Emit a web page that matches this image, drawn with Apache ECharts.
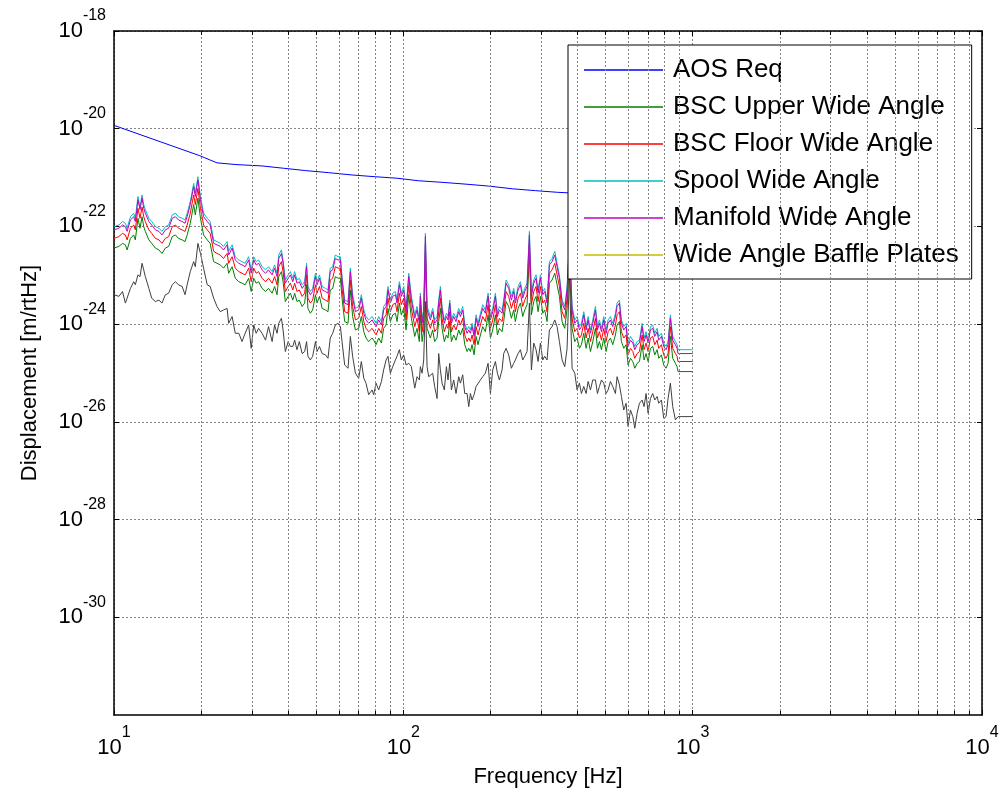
<!DOCTYPE html>
<html><head><meta charset="utf-8">
<script src="https://cdn.jsdelivr.net/npm/echarts@6/dist/echarts.min.js"></script>
<style>html,body{margin:0;padding:0;background:#fff}#chart{width:1005px;height:803px}</style>
</head><body><div id="chart"></div>
<script>
// ---- data ----
const aosFreq = [10, 19.8, 22.7, 26.6, 32.5, 38.6, 45.9, 55.2, 66.5, 80.0, 95.1, 113, 136, 166, 197, 238, 286, 340, 1000];
const aosReq = [1.17e-20, 2.8e-21, 2.0e-21, 1.84e-21, 1.73e-21, 1.55e-21, 1.39e-21, 1.26e-21, 1.13e-21, 1.04e-21, 9.7e-22, 8.6e-22, 8.0e-22, 7.3e-22, 6.7e-22, 5.9e-22, 5.4e-22, 5.0e-22, 3.6e-22];

const freq = [
10.0,10.4,10.7,10.95,11.1,11.4,11.7,11.85,12.1,12.3,
12.5,12.67,12.83,13.2,13.5,13.9,14.3,14.65,14.85,15.05,
15.45,15.9,16.3,16.7,17.2,17.6,17.9,18.35,18.85,19.1,
19.5,19.9,20.4,21.0,21.5,22.1,22.7,23.3,23.9,24.6,
24.9,25.6,26.25,27.0,27.7,28.4,29.2,29.8,30.4,31.0,
31.6,32.5,33.4,34.2,35.2,35.9,36.6,37.1,37.9,38.4,
39.1,40.0,40.7,41.5,42.1,42.9,43.7,44.7,45.6,46.3,
46.8,47.7,48.6,49.7,50.3,51.3,52.4,53.8,54.9,55.9,
57.0,58.2,59.5,60.6,61.4,62.7,64.4,65.6,66.8,68.3,
70.1,71.6,73.0,74.3,75.9,78.0,79.0,80.5,82.2,84.0,
85.5,87.2,88.5,90.2,91.9,93.9,95.1,96.9,98.4,100.3,
102.2,104.4,106.6,109.5,111.5,113.6,114.5,116.1,117.6,119.2,
120.8,122.4,124.0,126.3,128.3,130.8,132.5,134.3,136.1,138.6,
140.9,142.7,144.7,146.6,149.3,152.1,155.4,157.5,160.4,163.0,
166.1,168.3,170.5,172.8,175.6,178.4,181.2,184.7,188.1,192.1,
196.3,200.0,203.7,208.1,211.4,214.8,219.4,222.3,226.5,231.3,
236.3,240.7,243.9,249.2,253.9,258.6,262.8,267.7,272.7,277.1,
282.3,287.6,292.2,297.7,303.3,308.1,313.9,319.8,326.6,333.7,
339.9,346.3,353.8,361.3,368.1,375.0,383.1,391.3,398.6,406.1,
412.6,420.4,428.3,435.2,443.3,451.6,461.3,468.7,476.2,483.9,
492.9,502.1,510.2,519.7,529.4,540.8,548.0,558.3,567.2,577.9,
588.8,598.2,609.5,621.0,630.9,642.7,654.7,668.8,679.2,690.2,
701.4,714.5,727.8,739.6,753.5,763.4,779.8,794.3,809.2,822.2,
837.5,853.3,871.6,883.3,890.0,1000.0];

const bscUpper = [
3.6e-23,3.9e-23,4.5e-23,4.2e-23,3.3e-23,5.7e-23,6.7e-23,5.3e-23,1.47e-22,9.2e-23,
1.58e-22,9.9e-23,7.9e-23,5.3e-23,4.5e-23,3.6e-23,3.3e-23,2.8e-23,2.6e-23,3.6e-23,
3.9e-23,6.2e-23,6.7e-23,5.7e-23,5.3e-23,4.9e-23,6.7e-23,1.16e-22,2.8e-22,1.72e-22,
3.8e-22,1.47e-22,6.7e-23,5.3e-23,4.5e-23,1.9e-23,1.76e-23,1.63e-23,1.4e-23,1.76e-23,
1.1e-23,1.5e-23,8.7e-24,7.4e-24,6.9e-24,6.4e-24,8.7e-24,4.65e-24,8.7e-24,6.9e-24,
7.4e-24,5.4e-24,4.65e-24,5.4e-24,4.3e-24,5.9e-24,4.0e-24,9.4e-24,1.19e-23,7.4e-24,
2.9e-24,3.7e-24,4.3e-24,3.1e-24,4.3e-24,2.9e-24,3.1e-24,2.3e-24,2.7e-24,6.4e-24,
2.1e-24,1.67e-24,1.95e-24,4.0e-24,2.7e-24,3.7e-24,2.1e-24,1.95e-24,1.8e-24,5.0e-24,
5.4e-24,9.4e-24,8.7e-24,8.7e-24,3.4e-24,1.13e-24,1.04e-24,5.0e-24,1.43e-24,7.6e-25,
8.2e-25,1.43e-24,7.0e-25,5.2e-25,4.4e-25,5.2e-25,4.7e-25,3.8e-25,5.2e-25,4.1e-25,
8.2e-25,9.6e-25,2.1e-24,1.13e-24,1.55e-24,1.67e-24,1.13e-24,2.7e-24,1.55e-24,2.1e-24,
7.6e-25,4.0e-24,1.32e-24,5.6e-25,8.2e-25,4.4e-25,1.55e-24,4.4e-25,7.6e-25,2.6e-23,
8.2e-25,8.2e-25,5.2e-25,7.6e-25,4.4e-25,5.2e-25,1.13e-24,2.1e-24,8.2e-25,4.4e-25,
6.0e-25,5.2e-25,1.13e-24,4.4e-25,6.0e-25,4.7e-25,7.6e-25,6.0e-25,8.2e-25,3.8e-25,
2.75e-25,3.2e-25,2.75e-25,3.8e-25,2.35e-25,5.6e-25,3.8e-25,6.0e-25,8.9e-25,7.0e-25,
1.55e-24,5.2e-25,7.6e-25,1.55e-24,6.0e-25,8.2e-25,7.0e-25,1.13e-24,2.9e-24,2.3e-24,
1.32e-24,1.95e-24,1.13e-24,2.1e-24,2.7e-24,1.43e-24,1.95e-24,2.5e-24,2.8e-23,1.55e-24,
2.9e-24,3.7e-24,1.8e-24,3.7e-24,1.67e-24,1.95e-24,1.13e-24,6.9e-24,8.0e-24,1.1e-23,
6.4e-24,3.7e-24,1.13e-24,8.2e-25,2.1e-24,1.9e-23,8.2e-25,4.4e-25,5.2e-25,3.2e-25,
3.8e-25,6.5e-25,3.2e-25,5.2e-25,2.75e-25,4.4e-25,8.2e-25,3.2e-25,4.4e-25,3.0e-25,
5.2e-25,2.75e-25,4.4e-25,5.2e-25,3.8e-25,6.0e-25,9.6e-25,1.13e-24,4.4e-25,3.2e-25,
3.8e-25,1.46e-25,2.0e-25,1.72e-25,1.25e-25,1.58e-25,1.72e-25,3.8e-25,1.85e-25,2.5e-25,
1.72e-25,3.2e-25,3.5e-25,2.35e-25,3.0e-25,2.0e-25,2.35e-25,1.46e-25,1.25e-25,1.58e-25,
5.6e-25,2.0e-25,1.58e-25,1.35e-25,1.07e-25,1.07e-25];

const bscFloor = [
5.7e-23,6.2e-23,7.2e-23,6.7e-23,5.3e-23,9.2e-23,1.07e-22,8.5e-23,2.35e-22,1.47e-22,
2.5e-22,1.58e-22,1.26e-22,8.5e-23,7.2e-23,5.7e-23,5.3e-23,4.5e-23,4.2e-23,5.7e-23,
6.2e-23,9.9e-23,1.07e-22,9.2e-23,8.5e-23,7.9e-23,1.07e-22,1.86e-22,4.4e-22,2.8e-22,
6.0e-22,2.35e-22,1.07e-22,8.5e-23,7.2e-23,3.1e-23,2.8e-23,2.6e-23,2.2e-23,2.8e-23,
1.76e-23,2.4e-23,1.4e-23,1.19e-23,1.1e-23,1.02e-23,1.4e-23,7.4e-24,1.4e-23,1.1e-23,
1.19e-23,8.7e-24,7.4e-24,8.7e-24,6.9e-24,9.4e-24,6.4e-24,1.5e-23,1.9e-23,1.19e-23,
4.65e-24,5.9e-24,6.9e-24,5.0e-24,6.9e-24,4.65e-24,5.0e-24,3.7e-24,4.3e-24,1.02e-23,
3.4e-24,2.7e-24,3.1e-24,6.4e-24,4.3e-24,5.9e-24,3.4e-24,3.1e-24,2.9e-24,8.0e-24,
8.7e-24,1.5e-23,1.4e-23,1.4e-23,5.4e-24,1.8e-24,1.67e-24,8.0e-24,2.3e-24,1.22e-24,
1.32e-24,2.3e-24,1.13e-24,8.2e-25,7.0e-25,8.2e-25,7.6e-25,6.0e-25,8.2e-25,6.5e-25,
1.32e-24,1.55e-24,3.4e-24,1.8e-24,2.5e-24,2.7e-24,1.8e-24,4.3e-24,2.5e-24,3.4e-24,
1.22e-24,6.4e-24,2.1e-24,8.9e-25,1.32e-24,7.0e-25,2.5e-24,7.0e-25,1.22e-24,4.2e-23,
1.32e-24,1.32e-24,8.2e-25,1.22e-24,7.0e-25,8.2e-25,1.8e-24,3.4e-24,1.32e-24,7.0e-25,
9.6e-25,8.2e-25,1.8e-24,7.0e-25,9.6e-25,7.6e-25,1.22e-24,9.6e-25,1.32e-24,6.0e-25,
4.4e-25,5.2e-25,4.4e-25,6.0e-25,3.8e-25,8.9e-25,6.0e-25,9.6e-25,1.43e-24,1.13e-24,
2.5e-24,8.2e-25,1.22e-24,2.5e-24,9.6e-25,1.32e-24,1.13e-24,1.8e-24,4.65e-24,3.7e-24,
2.1e-24,3.1e-24,1.8e-24,3.4e-24,4.3e-24,2.3e-24,3.1e-24,4.0e-24,4.5e-23,2.5e-24,
4.65e-24,5.9e-24,2.9e-24,5.9e-24,2.7e-24,3.1e-24,1.8e-24,1.1e-23,1.29e-23,1.76e-23,
1.02e-23,5.9e-24,1.8e-24,1.32e-24,3.4e-24,3.1e-23,1.32e-24,7.0e-25,8.2e-25,5.2e-25,
6.0e-25,1.04e-24,5.2e-25,8.2e-25,4.4e-25,7.0e-25,1.32e-24,5.2e-25,7.0e-25,4.7e-25,
8.2e-25,4.4e-25,7.0e-25,8.2e-25,6.0e-25,9.6e-25,1.55e-24,1.8e-24,7.0e-25,5.2e-25,
6.0e-25,2.35e-25,3.2e-25,2.75e-25,2.0e-25,2.5e-25,2.75e-25,6.0e-25,3.0e-25,4.1e-25,
2.75e-25,5.2e-25,5.6e-25,3.8e-25,4.7e-25,3.2e-25,3.8e-25,2.35e-25,2.0e-25,2.5e-25,
8.9e-25,3.2e-25,2.5e-25,2.2e-25,1.72e-25,1.72e-25];

const spool = [
9.9e-23,1.07e-22,1.26e-22,1.16e-22,9.2e-23,1.58e-22,1.86e-22,1.47e-22,4.1e-22,2.5e-22,
4.4e-22,2.8e-22,2.2e-22,1.47e-22,1.26e-22,9.9e-23,9.2e-23,7.9e-23,7.2e-23,9.9e-23,
1.07e-22,1.72e-22,1.86e-22,1.58e-22,1.47e-22,1.36e-22,1.86e-22,3.2e-22,7.6e-22,4.8e-22,
1.04e-21,4.1e-22,1.86e-22,1.47e-22,1.26e-22,5.3e-23,4.9e-23,4.5e-23,3.9e-23,4.9e-23,
3.1e-23,4.2e-23,2.4e-23,2.06e-23,1.9e-23,1.76e-23,2.4e-23,1.29e-23,2.4e-23,1.9e-23,
2.06e-23,1.5e-23,1.29e-23,1.5e-23,1.19e-23,1.63e-23,1.1e-23,2.6e-23,3.3e-23,2.06e-23,
8.0e-24,1.02e-23,1.19e-23,8.7e-24,1.19e-23,8.0e-24,8.7e-24,6.4e-24,7.4e-24,1.76e-23,
5.9e-24,4.65e-24,5.4e-24,1.1e-23,7.4e-24,1.02e-23,5.9e-24,5.4e-24,5.0e-24,1.4e-23,
1.5e-23,2.6e-23,2.4e-23,2.4e-23,9.4e-24,3.1e-24,2.9e-24,1.4e-23,4.0e-24,2.1e-24,
2.3e-24,4.0e-24,1.95e-24,1.43e-24,1.22e-24,1.43e-24,1.32e-24,1.04e-24,1.43e-24,1.13e-24,
2.3e-24,2.7e-24,5.9e-24,3.1e-24,4.3e-24,4.65e-24,3.1e-24,7.4e-24,4.3e-24,5.9e-24,
2.1e-24,1.1e-23,3.7e-24,1.55e-24,2.3e-24,1.22e-24,4.3e-24,1.22e-24,2.1e-24,7.2e-23,
2.3e-24,2.3e-24,1.43e-24,2.1e-24,1.22e-24,1.43e-24,3.1e-24,5.9e-24,2.3e-24,1.22e-24,
1.67e-24,1.43e-24,3.1e-24,1.22e-24,1.67e-24,1.32e-24,2.1e-24,1.67e-24,2.3e-24,1.04e-24,
7.6e-25,8.9e-25,7.6e-25,1.04e-24,6.5e-25,1.55e-24,1.04e-24,1.67e-24,2.5e-24,1.95e-24,
4.3e-24,1.43e-24,2.1e-24,4.3e-24,1.67e-24,2.3e-24,1.95e-24,3.1e-24,8.0e-24,6.4e-24,
3.7e-24,5.4e-24,3.1e-24,5.9e-24,7.4e-24,4.0e-24,5.4e-24,6.9e-24,7.9e-23,4.3e-24,
8.0e-24,1.02e-23,5.0e-24,1.02e-23,4.65e-24,5.4e-24,3.1e-24,1.9e-23,2.2e-23,3.1e-23,
1.76e-23,1.02e-23,3.1e-24,2.3e-24,5.9e-24,5.3e-23,2.3e-24,1.22e-24,1.43e-24,8.9e-25,
1.04e-24,1.8e-24,8.9e-25,1.43e-24,7.6e-25,1.22e-24,2.3e-24,8.9e-25,1.22e-24,8.2e-25,
1.43e-24,7.6e-25,1.22e-24,1.43e-24,1.04e-24,1.67e-24,2.7e-24,3.1e-24,1.22e-24,8.9e-25,
1.04e-24,4.1e-25,5.6e-25,4.7e-25,3.5e-25,4.4e-25,4.7e-25,1.04e-24,5.2e-25,7.0e-25,
4.7e-25,8.9e-25,9.6e-25,6.5e-25,8.2e-25,5.6e-25,6.5e-25,4.1e-25,3.5e-25,4.4e-25,
1.55e-24,5.6e-25,4.4e-25,3.8e-25,3.0e-25,3.0e-25];

const manifold = [
8.5e-23,9.2e-23,1.07e-22,9.9e-23,7.9e-23,1.36e-22,1.58e-22,1.26e-22,3.5e-22,2.2e-22,
3.8e-22,2.35e-22,1.86e-22,1.26e-22,1.07e-22,8.5e-23,7.9e-23,6.7e-23,6.2e-23,8.5e-23,
9.2e-23,1.47e-22,1.58e-22,1.36e-22,1.26e-22,1.16e-22,1.58e-22,2.8e-22,6.5e-22,4.1e-22,
8.9e-22,3.5e-22,1.58e-22,1.26e-22,1.07e-22,4.5e-23,4.2e-23,3.9e-23,3.3e-23,4.2e-23,
2.6e-23,3.6e-23,2.06e-23,1.76e-23,1.63e-23,1.5e-23,2.06e-23,1.1e-23,2.06e-23,1.63e-23,
1.76e-23,1.29e-23,1.1e-23,1.29e-23,1.02e-23,1.4e-23,9.4e-24,2.2e-23,2.8e-23,1.76e-23,
6.9e-24,8.7e-24,1.02e-23,7.4e-24,1.02e-23,6.9e-24,7.4e-24,5.4e-24,6.4e-24,1.5e-23,
5.0e-24,4.0e-24,4.65e-24,9.4e-24,6.4e-24,8.7e-24,5.0e-24,4.65e-24,4.3e-24,1.19e-23,
1.29e-23,2.2e-23,2.06e-23,2.06e-23,8.0e-24,2.7e-24,2.5e-24,1.19e-23,3.4e-24,1.8e-24,
1.95e-24,3.4e-24,1.67e-24,1.22e-24,1.04e-24,1.22e-24,1.13e-24,8.9e-25,1.22e-24,9.6e-25,
1.95e-24,2.3e-24,5.0e-24,2.7e-24,3.7e-24,4.0e-24,2.7e-24,6.4e-24,3.7e-24,5.0e-24,
1.8e-24,9.4e-24,3.1e-24,1.32e-24,1.95e-24,1.04e-24,3.7e-24,1.04e-24,1.8e-24,6.2e-23,
1.95e-24,1.95e-24,1.22e-24,1.8e-24,1.04e-24,1.22e-24,2.7e-24,5.0e-24,1.95e-24,1.04e-24,
1.43e-24,1.22e-24,2.7e-24,1.04e-24,1.43e-24,1.13e-24,1.8e-24,1.43e-24,1.95e-24,8.9e-25,
6.5e-25,7.6e-25,6.5e-25,8.9e-25,5.6e-25,1.32e-24,8.9e-25,1.43e-24,2.1e-24,1.67e-24,
3.7e-24,1.22e-24,1.8e-24,3.7e-24,1.43e-24,1.95e-24,1.67e-24,2.7e-24,6.9e-24,5.4e-24,
3.1e-24,4.65e-24,2.7e-24,5.0e-24,6.4e-24,3.4e-24,4.65e-24,5.9e-24,6.7e-23,3.7e-24,
6.9e-24,8.7e-24,4.3e-24,8.7e-24,4.0e-24,4.65e-24,2.7e-24,1.63e-23,1.9e-23,2.6e-23,
1.5e-23,8.7e-24,2.7e-24,1.95e-24,5.0e-24,4.5e-23,1.95e-24,1.04e-24,1.22e-24,7.6e-25,
8.9e-25,1.55e-24,7.6e-25,1.22e-24,6.5e-25,1.04e-24,1.95e-24,7.6e-25,1.04e-24,7.0e-25,
1.22e-24,6.5e-25,1.04e-24,1.22e-24,8.9e-25,1.43e-24,2.3e-24,2.7e-24,1.04e-24,7.6e-25,
8.9e-25,3.5e-25,4.7e-25,4.1e-25,3.0e-25,3.8e-25,4.1e-25,8.9e-25,4.4e-25,6.0e-25,
4.1e-25,7.6e-25,8.2e-25,5.6e-25,7.0e-25,4.7e-25,5.6e-25,3.5e-25,3.0e-25,3.8e-25,
1.32e-24,4.7e-25,3.8e-25,3.2e-25,2.5e-25,2.5e-25];

// Wide Angle Baffle Plates: no trace is visible in the picture
const bafflePlates = [];

// dark grey trace (not listed in the legend)
const totalTrace = [
4.0e-24,3.7e-24,4.65e-24,2.7e-24,2.5e-24,5.4e-24,7.4e-24,6.4e-24,1.02e-23,9.4e-24,
1.76e-23,1.29e-23,9.4e-24,5.4e-24,3.4e-24,2.9e-24,3.1e-24,2.7e-24,2.7e-24,4.0e-24,
4.3e-24,6.4e-24,7.4e-24,6.4e-24,5.9e-24,4.0e-24,6.4e-24,1.19e-23,1.9e-23,1.5e-23,
4.5e-23,2.8e-23,1.4e-23,6.4e-24,5.9e-24,3.4e-24,2.3e-24,1.8e-24,1.95e-24,2.1e-24,
1.04e-24,1.43e-24,6.5e-25,6.5e-25,4.4e-25,6.5e-25,9.6e-25,3.2e-25,9.6e-25,6.5e-25,
8.2e-25,6.5e-25,4.7e-25,8.9e-25,4.4e-25,9.6e-25,6.5e-25,1.04e-24,1.32e-24,7.6e-25,
2.75e-25,4.4e-25,3.5e-25,3.5e-25,4.7e-25,3.0e-25,4.4e-25,2.5e-25,2.75e-25,4.4e-25,
2.2e-25,1.85e-25,2.2e-25,4.4e-25,2.75e-25,3.5e-25,2.5e-25,2.35e-25,2.0e-25,5.2e-25,
6.5e-25,9.6e-25,1.04e-24,8.9e-25,4.4e-25,1.46e-25,1.25e-25,5.6e-25,2.2e-25,9.9e-26,
7.8e-26,1.72e-25,7.8e-26,6.2e-26,3.6e-26,4.5e-26,3.6e-26,6.2e-26,4.5e-26,6.7e-26,
1.16e-25,1.85e-25,2.2e-25,9.9e-26,1.35e-25,1.85e-25,2.2e-25,3.0e-25,1.85e-25,2.35e-25,
1.46e-25,1.58e-25,1.35e-25,4.9e-26,8.4e-26,7.2e-26,1.35e-25,9.9e-26,1.85e-25,2.9e-24,
1.35e-25,8.4e-26,7.8e-26,9.9e-26,5.3e-26,3.0e-26,2.5e-25,1.16e-25,6.2e-26,4.5e-26,
1.35e-25,7.2e-26,1.58e-25,4.5e-26,7.2e-26,3.8e-26,8.4e-26,6.2e-26,9.2e-26,3.8e-26,
3.8e-26,2.05e-26,3.8e-26,2.8e-26,3.6e-26,5.3e-26,4.9e-26,7.2e-26,8.4e-26,9.9e-26,
1.58e-25,3.8e-26,1.16e-25,1.72e-25,9.9e-26,7.2e-26,1.16e-25,2.5e-25,3.2e-25,2.35e-25,
1.25e-25,1.58e-25,1.85e-25,2.5e-25,3.0e-25,1.85e-25,2.2e-25,2.75e-25,2.7e-24,1.16e-25,
4.1e-25,3.0e-25,1.72e-25,4.1e-25,1.85e-25,2.2e-25,1.85e-25,7.6e-25,8.9e-25,1.22e-24,
8.9e-25,4.4e-25,1.85e-25,1.35e-25,3.2e-25,1.1e-23,1.25e-25,9.9e-26,4.5e-26,6.2e-26,
3.8e-26,5.3e-26,3.8e-26,6.7e-26,4.5e-26,7.2e-26,7.2e-26,3.8e-26,5.3e-26,7.2e-26,
6.2e-26,3.8e-26,4.5e-26,6.7e-26,5.3e-26,3.8e-26,8.4e-26,5.7e-26,3.3e-26,1.75e-26,
2.4e-26,8.0e-27,1.75e-26,1.28e-26,7.4e-27,1.5e-26,2.4e-26,2.8e-26,2.05e-26,3.8e-26,
1.5e-26,3.0e-26,3.8e-26,2.8e-26,3.3e-26,2.4e-26,2.8e-26,1.19e-26,1.28e-26,3.0e-26,
6.2e-26,2.05e-26,1.1e-26,1.02e-26,1.28e-26,1.28e-26];

const xMinorGrid = [20,30,40,50,60,70,80,90,200,300,400,500,600,700,800,900,2000,3000,4000,5000,6000,7000,8000,9000];
const legendNames = ['AOS Req','BSC Upper Wide Angle','BSC Floor Wide Angle','Spool Wide Angle','Manifold Wide Angle','Wide Angle Baffle Plates'];

// ---- chart ----
const FONT = '"Liberation Sans", Arial, Helvetica, sans-serif';
const Y_MIN = 1e-32, Y_MAX = 1e-18;
// inner ends of the short minor tick marks on the bottom / top frame (about 4 px)
const TICK_IN_BOTTOM = 1.21e-32, TICK_IN_TOP = 8.3e-19;
const chart = echarts.init(document.getElementById('chart'), null, {renderer: 'canvas'});
function pts(xs, ys) { return ys.map((y, i) => [xs[i], y]); }
const rich = {
  b: {fontSize: 22, lineHeight: 34, verticalAlign: 'bottom', fontFamily: FONT, color: '#000'},
  s: {fontSize: 16, lineHeight: 16, verticalAlign: 'top', fontFamily: FONT, color: '#000'}
};
function expLabel(v) {
  const e = Math.round(Math.log10(v));
  return '{b|10}{s|' + e + '}';
}
const gridStyle = {color: '#858585', type: [2, 2], width: 1};
const tickStyle = {color: '#000', width: 1};
const tick = {show: true, inside: true, length: 5, lineStyle: tickStyle};
const axisLine = {show: true, onZero: false, lineStyle: {color: '#000', width: 1.5}};

function line(name, color, data, extra) {
  return Object.assign({
    name: name, type: 'line', data: data, symbol: 'none', showSymbol: false,
    color: color, lineStyle: {color: color, width: 1}, itemStyle: {color: color},
    silent: true, animation: false
  }, extra || {});
}

const markData = xMinorGrid.map(v => ({xAxis: v}));
xMinorGrid.forEach(v => {
  markData.push([{coord: [v, Y_MIN], lineStyle: {color: '#000', type: 'solid', width: 1}}, {coord: [v, TICK_IN_BOTTOM]}]);
  markData.push([{coord: [v, Y_MAX], lineStyle: {color: '#000', type: 'solid', width: 1}}, {coord: [v, TICK_IN_TOP]}]);
});

const option = {
  animation: false,
  backgroundColor: '#fff',
  grid: {left: 114, right: 23, top: 31, bottom: 88, containLabel: false, outerBoundsMode: 'none'},
  xAxis: [
    {type: 'log', logBase: 10, min: 10, max: 10000, position: 'bottom',
     name: 'Frequency [Hz]', nameLocation: 'middle', nameGap: 51, nameMoveOverlap: false,
     nameTextStyle: {fontSize: 22, fontFamily: FONT, color: '#000'},
     axisLine: axisLine, axisTick: tick,
     axisLabel: {margin: 10, formatter: expLabel, rich: rich},
     splitLine: {show: true, lineStyle: gridStyle}},
    {type: 'log', logBase: 10, min: 10, max: 10000, position: 'top',
     axisLine: axisLine, axisTick: tick, axisLabel: {show: false}, splitLine: {show: false}}
  ],
  yAxis: [
    {type: 'log', logBase: 100, min: Y_MIN, max: Y_MAX, position: 'left',
     name: 'Displacement [m/rtHz]', nameLocation: 'middle', nameGap: 73, nameRotate: 90, nameMoveOverlap: false,
     nameTextStyle: {fontSize: 22, fontFamily: FONT, color: '#000'},
     axisLine: axisLine, axisTick: tick,
     axisLabel: {margin: 8, padding: [0, 0, 12, 0],
       formatter: function (v) { const e = Math.round(Math.log10(v)); return e <= -32 ? '' : expLabel(v); },
       rich: rich},
     splitLine: {show: true, lineStyle: gridStyle}},
    {type: 'log', logBase: 100, min: Y_MIN, max: Y_MAX, position: 'right',
     axisLine: axisLine, axisTick: tick, axisLabel: {show: false}, splitLine: {show: false}}
  ],
  legend: {
    data: legendNames, orient: 'vertical', left: 568, top: 45,
    padding: [12, 13, 11, 16], itemGap: 11, itemWidth: 79, itemHeight: 1.5, icon: 'rect',
    backgroundColor: '#fff', borderColor: '#000', borderWidth: 1, borderRadius: 0,
    selectedMode: false,
    textStyle: {fontFamily: FONT, fontSize: 26, color: '#000', width: 285, lineHeight: 26, padding: [0, 0, 0, 5]}
  },
  series: [
    line('AOS Req', '#0000ff', pts(aosFreq, aosReq), {
      markLine: {silent: true, symbol: 'none', animation: false, label: {show: false},
        lineStyle: gridStyle, data: markData}
    }),
    line('BSC Upper Wide Angle', '#008000', pts(freq, bscUpper)),
    line('BSC Floor Wide Angle', '#ff0000', pts(freq, bscFloor)),
    line('Spool Wide Angle', '#00bfbf', pts(freq, spool)),
    line('Manifold Wide Angle', '#bf00bf', pts(freq, manifold)),
    line('Wide Angle Baffle Plates', '#bfbf00', pts(freq, bafflePlates)),
    line('Total', '#404040', pts(freq, totalTrace))
  ]
};
chart.setOption(option);
</script>
</body></html>
